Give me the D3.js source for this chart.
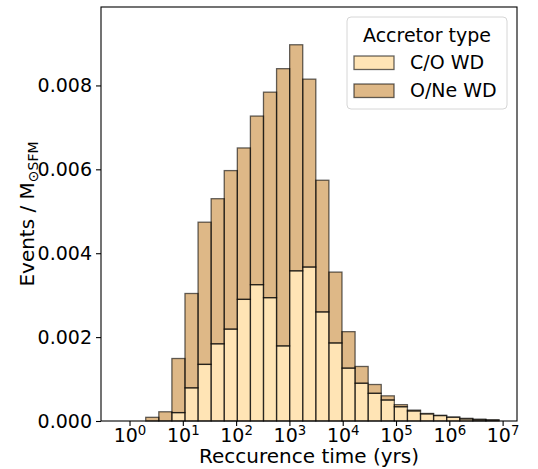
<!DOCTYPE html>
<html>
<head>
<meta charset="utf-8">
<script src="https://cdn.jsdelivr.net/npm/d3@7"></script>
<style>
  body { margin: 0; background: #fff; }
  svg { display: block; }
  text { font-family: "DejaVu Sans", sans-serif; }
</style>
</head>
<body>
<svg id="chart" width="538" height="469"></svg>
<script>
// ---- data ----
const logBinStart = -0.187;   // log10 of first bin edge (years)
const logBinWidth = 0.2455;   // bin width in dex
const coWD = [0, 0, 0, 0, 0.0002, 0.00079, 0.00135, 0.00184, 0.00219, 0.0029, 0.00325, 0.00294, 0.00179, 0.00358, 0.00367, 0.0026, 0.00186, 0.00126, 0.0009, 0.00066, 0.0005, 0.00034, 0.00024, 0.00017, 0.00013, 0.00009, 0.00005, 0.00003, 0.00002];
const oneWD = [0, 0, 0.000088, 0.00022, 0.00129, 0.00225, 0.00339, 0.00346, 0.00378, 0.00361, 0.00402, 0.0049, 0.00661, 0.00539, 0.00448, 0.00314, 0.00169, 0.00087, 0.0004, 0.00021, 0.0001, 0.00005, 0.00002, 0.00001, 0.000005, 0.000005, 0.000014, 0.000015, 0.00001];
const seriesNames = ["C/O WD", "O/Ne WD"];
const seriesColors = ["#FFE4B5", "#DEB887"];
const xTickExps = [0, 1, 2, 3, 4, 5, 6, 7];
const yTicks = [0, 0.002, 0.004, 0.006, 0.008];
const legendTitle = "Accretor type";
const xLabel = "Reccurence time (yrs)";

// ---- layout ----
const svg = d3.select("#chart");
const L = 101, R = 517, T = 7, B = 421;
const x = d3.scaleLog().domain([Math.pow(10, -0.535), Math.pow(10, 7.27)]).range([L, R]);
const y = d3.scaleLinear().domain([0, 0.00987]).range([B, T]);
const fsTick = 19;
const fsLab = 20;

const bins = coWD.map((c, i) => ({
  x0: Math.pow(10, logBinStart + i * logBinWidth),
  x1: Math.pow(10, logBinStart + (i + 1) * logBinWidth),
  co: c, one: oneWD[i]
}));

const gBars = svg.append("g");
const gEdges = svg.append("g");
gBars.selectAll("rect.co").data(bins).join("rect")
  .attr("x", d => x(d.x0)).attr("width", d => x(d.x1) - x(d.x0))
  .attr("y", d => y(d.co)).attr("height", d => y(0) - y(d.co))
  .attr("fill", seriesColors[0]);
gBars.selectAll("rect.one").data(bins).join("rect")
  .attr("x", d => x(d.x0)).attr("width", d => x(d.x1) - x(d.x0))
  .attr("y", d => y(d.co + d.one)).attr("height", d => y(d.co) - y(d.co + d.one))
  .attr("fill", seriesColors[1]);
const edgeStyle = sel => sel.attr("fill", "none").attr("stroke", "#000")
  .attr("stroke-opacity", 0.6).attr("stroke-width", 1.3);
gEdges.selectAll("rect.coE").data(bins.filter(d => d.co > 0)).join("rect")
  .attr("x", d => x(d.x0)).attr("width", d => x(d.x1) - x(d.x0))
  .attr("y", d => y(d.co)).attr("height", d => y(0) - y(d.co))
  .call(edgeStyle);
gEdges.selectAll("rect.oneE").data(bins.filter(d => d.one > 0)).join("rect")
  .attr("x", d => x(d.x0)).attr("width", d => x(d.x1) - x(d.x0))
  .attr("y", d => y(d.co + d.one)).attr("height", d => y(d.co) - y(d.co + d.one))
  .call(edgeStyle);

// ---- axes ----
const xAxis = d3.axisBottom(x).tickValues(xTickExps.map(e => Math.pow(10, e)))
  .tickSize(5).tickPadding(4).tickFormat(() => "");
const gx = svg.append("g").attr("transform", `translate(0,${B})`).call(xAxis);
gx.select(".domain").remove();
gx.selectAll(".tick line").attr("stroke", "#000").attr("stroke-width", 1.1);
gx.selectAll(".tick text").each(function(d, i) {
  const t = d3.select(this).attr("font-size", fsTick).attr("fill", "#000")
    .attr("font-family", "DejaVu Sans").attr("y", 21).attr("dy", 0);
  t.text("10");
  t.append("tspan").attr("dy", "-0.55em").attr("font-size", "0.7em").text(xTickExps[i]);
});

const yAxis = d3.axisLeft(y).tickValues(yTicks).tickSize(5).tickPadding(4)
  .tickFormat(d3.format(".3f"));
const gy = svg.append("g").attr("transform", `translate(${L},0)`).call(yAxis);
gy.select(".domain").remove();
gy.selectAll(".tick line").attr("stroke", "#000").attr("stroke-width", 1.1);
gy.selectAll(".tick text").attr("font-size", fsTick).attr("fill", "#000")
  .attr("font-family", "DejaVu Sans");

// frame
svg.append("rect").attr("x", L).attr("y", T).attr("width", R - L).attr("height", B - T)
  .attr("fill", "none").attr("stroke", "#000").attr("stroke-width", 1.1);

// axis labels
svg.append("text").attr("x", (L + R) / 2).attr("y", 463).attr("text-anchor", "middle")
  .attr("font-size", fsLab).attr("fill", "#000").text(xLabel);
const yl = svg.append("text").attr("transform", `translate(34,${(T + B) / 2}) rotate(-90)`)
  .attr("text-anchor", "middle").attr("font-size", fsLab).attr("fill", "#000");
yl.append("tspan").text("Events / M");
yl.append("tspan").attr("font-size", "0.7em").attr("dy", "0.25em").text("⊙SFM");

// ---- legend ----
const lg = svg.append("g");
lg.append("rect").attr("x", 347).attr("y", 17).attr("width", 160).attr("height", 92)
  .attr("rx", 4).attr("fill", "#fff").attr("fill-opacity", 0.8)
  .attr("stroke", "#d6d6d6").attr("stroke-width", 1);
lg.append("text").attr("x", 427).attr("y", 42).attr("text-anchor", "middle")
  .attr("font-size", 19).attr("fill", "#000").text(legendTitle);
seriesNames.forEach((name, i) => {
  const yy = 56 + i * 28;
  lg.append("rect").attr("x", 354).attr("y", yy).attr("width", 40).attr("height", 13.5)
    .attr("fill", seriesColors[i]).attr("stroke", "#000").attr("stroke-opacity", 0.6)
    .attr("stroke-width", 1.3);
  lg.append("text").attr("x", 410).attr("y", yy + 13).attr("font-size", 19)
    .attr("fill", "#000").text(name);
});
</script>
</body>
</html>
